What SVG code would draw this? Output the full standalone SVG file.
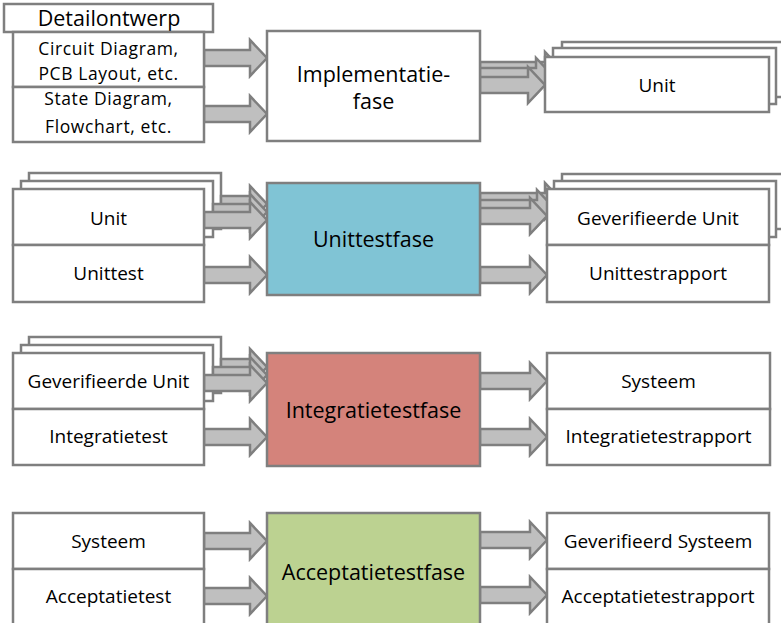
<svg xmlns="http://www.w3.org/2000/svg" width="781" height="623" viewBox="0 0 781 623">
<style>
.b{fill:#fff;stroke:#7f7f7f;stroke-width:2.5}
.a{fill:#bfbfbf;stroke:#7f7f7f;stroke-width:2.5;stroke-linejoin:miter}
text{font-family:"Open Sans","Noto Sans",sans-serif;fill:#000;text-anchor:middle}
.s{font-size:17.5px;letter-spacing:0.6px}
.m{font-size:19px}
.d{font-size:21.5px}
.l{font-size:21.5px}
</style>
<rect width="781" height="623" fill="#fff"/>
<!-- stacked back copies -->
<g id="unit-out-stack">
<rect class="b" x="562" y="42" width="224" height="55"/>
<rect class="b" x="553" y="48" width="223" height="56"/>
</g>
<g id="unit-in-stack">
<rect class="b" x="29" y="173" width="192" height="56"/>
<rect class="b" x="21" y="181" width="192" height="56"/>
</g>
<g id="verunit-out-stack">
<rect class="b" x="562" y="174" width="224" height="55"/>
<rect class="b" x="554" y="181" width="222" height="56"/>
</g>
<g id="verunit-in-stack">
<rect class="b" x="29" y="337" width="192" height="56"/>
<rect class="b" x="21" y="345" width="192" height="56"/>
</g>
<g id="connectors">
<path class="a" d="M204,50 H250 V40 L267,58 L250,76 V66 H204 Z"/>
<path class="a" d="M204,106 H250 V96 L267,114 L250,132 V122 H204 Z"/>
<path class="a" d="M480,62 H545 V52 L562,70 L545,88 V78 H480 Z"/>
<path class="a" d="M480,68 H536 V58 L553,76 L536,94 V84 H480 Z"/>
<path class="a" d="M480,77 H528 V67 L545,85 L528,103 V93 H480 Z"/>
<path class="a" d="M221,196 H250 V186 L267,204 L250,222 V212 H221 Z"/>
<path class="a" d="M213,204 H250 V194 L267,212 L250,230 V220 H213 Z"/>
<path class="a" d="M204,212 H250 V202 L267,220 L250,238 V228 H204 Z"/>
<path class="a" d="M204,267 H250 V257 L267,275 L250,293 V283 H204 Z"/>
<path class="a" d="M480,193 H545 V183 L562,201 L545,219 V209 H480 Z"/>
<path class="a" d="M480,200 H537 V190 L554,208 L537,226 V216 H480 Z"/>
<path class="a" d="M480,208 H530 V198 L547,216 L530,234 V224 H480 Z"/>
<path class="a" d="M480,267 H530 V257 L547,275 L530,293 V283 H480 Z"/>
<path class="a" d="M221,359 H250 V349 L267,367 L250,385 V375 H221 Z"/>
<path class="a" d="M213,367 H250 V357 L267,375 L250,393 V383 H213 Z"/>
<path class="a" d="M204,375 H250 V365 L267,383 L250,401 V391 H204 Z"/>
<path class="a" d="M204,429 H250 V419 L267,437 L250,455 V445 H204 Z"/>
<path class="a" d="M480,373 H530 V363 L547,381 L530,399 V389 H480 Z"/>
<path class="a" d="M480,429 H530 V419 L547,437 L530,455 V445 H480 Z"/>
<path class="a" d="M204,533 H250 V523 L267,541 L250,559 V549 H204 Z"/>
<path class="a" d="M204,588 H250 V578 L267,596 L250,614 V604 H204 Z"/>
<path class="a" d="M480,532 H530 V522 L547,540 L530,558 V548 H480 Z"/>
<path class="a" d="M480,587 H530 V577 L547,595 L530,613 V603 H480 Z"/>
</g>
<!-- row 1 -->
<g id="detailontwerp">
<rect class="b" x="4" y="4" width="209" height="28"/>
<text class="d" x="109" y="26">Detailontwerp</text>
</g>
<g id="circuit">
<rect class="b" x="13" y="32" width="191" height="55"/>
<text class="s" x="108.5" y="55">Circuit Diagram,</text>
<text class="s" x="108.5" y="80">PCB Layout, etc.</text>
</g>
<g id="state">
<rect class="b" x="13" y="87" width="191" height="55"/>
<text class="s" x="108.5" y="105">State Diagram,</text>
<text class="s" x="108.5" y="133">Flowchart, etc.</text>
</g>
<g id="implementatiefase">
<rect class="b" x="267" y="31" width="213" height="110"/>
<text class="l" x="373.5" y="82">Implementatie-</text>
<text class="l" x="373.5" y="109">fase</text>
</g>
<g id="unit-out">
<rect class="b" x="545" y="57" width="224" height="55"/>
<text class="m" x="657" y="92">Unit</text>
</g>
<!-- row 2 -->
<g id="unit-in">
<rect class="b" x="13" y="189" width="191" height="56"/>
<text class="m" x="108.5" y="225">Unit</text>
</g>
<g id="unittest">
<rect class="b" x="13" y="245" width="191" height="57"/>
<text class="m" x="108.5" y="280">Unittest</text>
</g>
<g id="unittestfase">
<rect class="b" x="267" y="183" width="213" height="112" style="fill:#80c4d5"/>
<text class="l" x="373.5" y="247">Unittestfase</text>
</g>
<g id="verunit-out">
<rect class="b" x="547" y="189" width="222" height="56"/>
<text class="m" x="658" y="225">Geverifieerde Unit</text>
</g>
<g id="unittestrapport">
<rect class="b" x="547" y="245" width="222" height="57"/>
<text class="m" x="658" y="280">Unittestrapport</text>
</g>
<!-- row 3 -->
<g id="verunit-in">
<rect class="b" x="13" y="353" width="191" height="56"/>
<text class="m" x="108.5" y="388">Geverifieerde Unit</text>
</g>
<g id="integratietest">
<rect class="b" x="13" y="409" width="191" height="56"/>
<text class="m" x="108.5" y="443">Integratietest</text>
</g>
<g id="integratietestfase">
<rect class="b" x="267" y="353" width="213" height="113" style="fill:#d4837b"/>
<text class="l" x="373.5" y="418">Integratietestfase</text>
</g>
<g id="systeem-out">
<rect class="b" x="547" y="353" width="223" height="56"/>
<text class="m" x="658.5" y="388">Systeem</text>
</g>
<g id="integratietestrapport">
<rect class="b" x="547" y="409" width="223" height="56"/>
<text class="m" x="658.5" y="443">Integratietestrapport</text>
</g>
<!-- row 4 -->
<g id="systeem-in">
<rect class="b" x="13" y="513" width="191" height="56"/>
<text class="m" x="108.5" y="548">Systeem</text>
</g>
<g id="acceptatietest">
<rect class="b" x="13" y="569" width="191" height="60"/>
<text class="m" x="108.5" y="603">Acceptatietest</text>
</g>
<g id="acceptatietestfase">
<rect class="b" x="267" y="513" width="213" height="116" style="fill:#bcd291"/>
<text class="l" x="373.5" y="580">Acceptatietestfase</text>
</g>
<g id="versysteem-out">
<rect class="b" x="547" y="513" width="222" height="56"/>
<text class="m" x="658" y="548">Geverifieerd Systeem</text>
</g>
<g id="acceptatietestrapport">
<rect class="b" x="547" y="569" width="222" height="60"/>
<text class="m" x="658" y="603">Acceptatietestrapport</text>
</g>
</svg>
